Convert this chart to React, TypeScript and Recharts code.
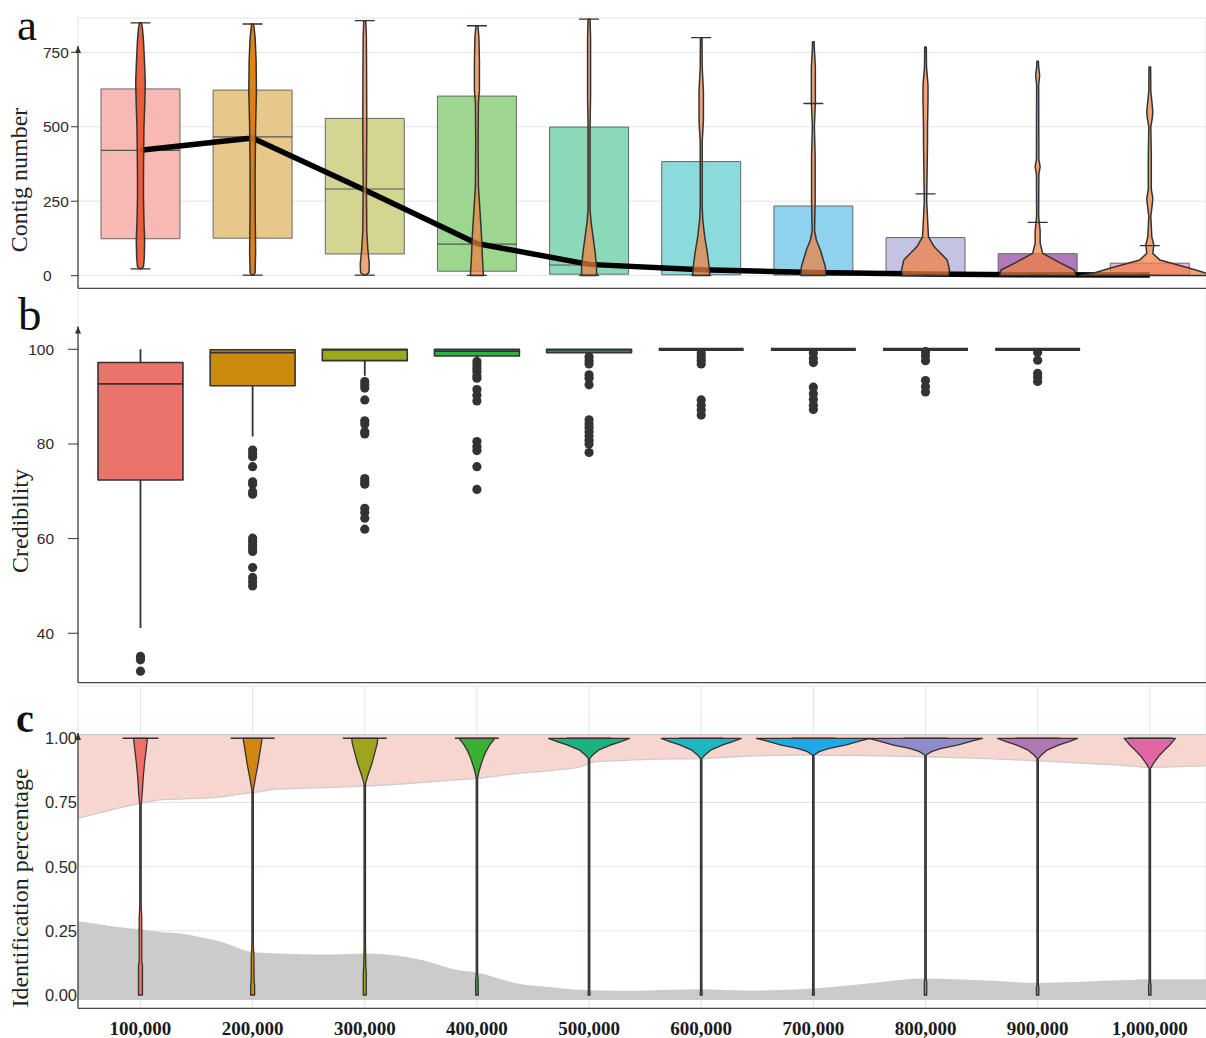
import React from "react";
import {
  ComposedChart, XAxis, YAxis, CartesianGrid, Area, Scatter,
  ReferenceLine, ReferenceDot,
} from "recharts";

// ---- shared categories ----
const sizeLabels = ["100,000", "200,000", "300,000", "400,000", "500,000", "600,000", "700,000", "800,000", "900,000", "1,000,000"];
const sizeIdx = [1, 2, 3, 4, 5, 6, 7, 8, 9, 10];

// ---- a: contig number ----
const contigTicks = [0, 250, 500, 750];
const contigQ1 = [124, 126, 73, 15, 5, 3, 2, 1, 1, 1];
const contigQ3 = [627, 623, 528, 603, 499, 383, 234, 128, 74, 42];
const contigMedian = [421, 466, 291, 106, 36, 18, 10, 5, 3, 2];
const contigTrend = [421, 462, 288, 108, 38, 20, 11, 6, 3, 2];
const contigCapHigh = [849, 845, 856, 839, 861, 799, 578, 275, 179, 101];
const contigCapLow = [23, 2, 2, 1, 1, 1, 1, 1, 1, 1];
// [value, density] pairs of each violin
const contigViolin = [
  [[23, 1], [30, 3], [60, 3.8], [120, 4.2], [180, 3.5], [260, 3], [340, 3], [420, 3.2], [500, 3.5], [580, 4.3], [650, 4.8], [720, 4], [790, 3], [830, 2], [849, 1]],
  [[2, 1], [10, 2.5], [80, 3], [200, 2.6], [350, 2.5], [500, 3], [620, 3.8], [720, 3.5], [800, 2.5], [845, 1]],
  [[2, 1], [10, 4.2], [40, 4.5], [90, 3], [150, 2], [300, 1.6], [500, 2], [700, 1.8], [800, 1.6], [856, 1]],
  [[1, 6.5], [20, 6.2], [60, 5.5], [140, 4.5], [220, 3], [300, 1.5], [450, 1.2], [580, 1.5], [620, 2.5], [720, 2.5], [800, 2], [839, 1]],
  [[1, 7.5], [30, 7.5], [80, 6], [130, 4], [180, 2], [220, 1], [500, 1], [600, 1.5], [800, 1.5], [861, 1]],
  [[1, 8.5], [30, 8], [80, 6], [130, 3.5], [190, 1.5], [230, 1], [450, 1], [520, 2.2], [620, 2.2], [700, 1], [799, 0.8]],
  [[1, 12.5], [30, 12], [86, 7], [120, 3], [150, 1.2], [250, 1.8], [400, 1.8], [500, 1], [580, 2], [700, 2], [760, 1], [785, 0.8]],
  [[1, 23], [19, 24], [53, 21.7], [97, 8.7], [130, 3], [160, 2.5], [250, 1.2], [450, 2], [500, 2], [590, 2.5], [640, 2.5], [700, 1], [768, 0.8]],
  [[1, 38], [19, 36.7], [42, 23], [75, 5], [110, 2.5], [150, 2.5], [200, 1], [340, 1.2], [366, 2.5], [390, 1.2], [640, 1], [673, 2], [700, 1], [720, 0.8]],
  [[1, 70], [10, 55], [25, 40], [53, 10], [75, 3], [103, 4], [130, 2], [200, 1], [240, 2.5], [260, 3], [290, 1.5], [400, 1.5], [500, 1], [530, 2.5], [550, 3], [570, 2.5], [620, 1], [701, 0.8]],
];

// ---- b: credibility ----
const credTicks = [40, 60, 80, 100];
const credQ1 = [72.4, 92.3, 97.6, 98.6, 99.3, 100, 100, 100, 100, null];
const credQ3 = [97.2, 99.9, 100, 100, 100, 100, 100, 100, 100, null];
const credMedian = [92.7, 99.3, 99.9, 99.6, 99.9, 100, 100, 100, 100, null];
const credLow = [41.1, 81.6, 94.4, 97.4, 98.8, 100, 100, 100, 100, null];
const credHigh = [100, 100, 100, 100, 100, 100, 100, 100, 100, null];
const credOutliers = [
  [35.1, 34.4, 32.0],
  [78.7, 78.0, 77.3, 75.2, 72.0, 71.5, 69.9, 69.4, 60.1, 59.4, 58.7, 58.0, 57.3, 53.9, 51.8, 50.9, 50.0],
  [93.2, 92.5, 91.8, 89.3, 84.9, 84.2, 82.6, 82.1, 72.7, 72.0, 71.5, 66.4, 65.5, 64.3, 62.0],
  [97.4, 96.7, 96.0, 95.3, 94.4, 93.9, 91.5, 90.3, 89.1, 80.5, 79.4, 78.6, 75.2, 70.4],
  [98.4, 97.6, 96.9, 94.6, 93.9, 92.5, 85.1, 84.2, 83.5, 82.6, 81.7, 80.8, 80.0, 78.2],
  [99.2, 98.4, 97.7, 96.9, 89.3, 88.2, 87.2, 86.1],
  [99.2, 98.1, 97.2, 92.0, 90.6, 89.4, 88.2, 87.3],
  [99.5, 98.6, 97.6, 93.4, 92.1, 91.0],
  [99.3, 97.7, 94.9, 94.1, 93.2],
  [],
];

// ---- c: identification percentage ----
const idTicks = [0, 0.25, 0.5, 0.75, 1];
const bandX = [0.443, 0.643, 0.795, 1.0, 1.178, 1.392, 1.535, 1.713, 1.829, 1.971, 2.07, 2.185, 2.426, 2.72, 3.005, 3.317, 3.585, 3.816, 4.004, 4.351, 4.672, 4.922, 5.037, 5.278, 5.519, 5.991, 6.437, 6.882, 7.444, 7.996, 8.442, 9.004, 9.44, 9.734, 10.002, 10.269, 10.501];
const pinkLow = [0.688, 0.71, 0.727, 0.747, 0.76, 0.764, 0.766, 0.772, 0.779, 0.787, 0.792, 0.801, 0.805, 0.809, 0.814, 0.822, 0.83, 0.838, 0.844, 0.862, 0.875, 0.889, 0.907, 0.913, 0.918, 0.921, 0.931, 0.935, 0.933, 0.928, 0.923, 0.912, 0.902, 0.896, 0.887, 0.89, 0.893];
const grayHigh = [0.286, 0.275, 0.265, 0.256, 0.245, 0.238, 0.225, 0.208, 0.19, 0.169, 0.165, 0.163, 0.159, 0.158, 0.162, 0.152, 0.128, 0.098, 0.087, 0.046, 0.03, 0.02, 0.019, 0.017, 0.018, 0.022, 0.017, 0.022, 0.043, 0.064, 0.058, 0.048, 0.053, 0.057, 0.061, 0.061, 0.061];
const pinkTop = 1.014;
const grayBottom = -0.0195;
const idViolin = [
  [[0, 2], [0.117, 2], [0.13, 1.3], [0.3, 1.3], [0.35, 0.7], [0.74, 0.7], [0.76, 1.2], [0.8, 2], [0.85, 2.8], [0.9, 4], [0.95, 5.5], [1.0, 7]],
  [[0, 2], [0.04, 2], [0.05, 1.5], [0.15, 1.3], [0.2, 0.7], [0.8, 0.7], [0.81, 1.2], [0.85, 3], [0.9, 5.5], [0.95, 7.5], [1.0, 9.5]],
  [[0, 1.5], [0.08, 1.5], [0.12, 1], [0.2, 0.7], [0.82, 0.7], [0.83, 1.2], [0.86, 3.5], [0.9, 7], [0.95, 10.5], [0.98, 12.5], [1.0, 13]],
  [[0, 1.3], [0.06, 1.3], [0.08, 0.7], [0.845, 0.7], [0.87, 2], [0.896, 4], [0.92, 6], [0.948, 9], [0.975, 13], [1.0, 18]],
  [[0, 1], [0.02, 0.7], [0.922, 0.7], [0.935, 3.7], [0.955, 10], [0.974, 22], [0.987, 32], [1.0, 40.5]],
  [[0, 1], [0.02, 0.7], [0.922, 0.7], [0.935, 3.7], [0.955, 10], [0.974, 21.5], [0.987, 31.5], [1.0, 40]],
  [[0, 1], [0.02, 0.7], [0.935, 0.7], [0.948, 6], [0.96, 15], [0.974, 33], [0.99, 47], [1.0, 57]],
  [[0, 1.2], [0.05, 1.2], [0.06, 0.7], [0.935, 0.7], [0.948, 6], [0.96, 15], [0.974, 33], [0.99, 47], [1.0, 57]],
  [[0, 1.2], [0.03, 1.2], [0.04, 0.7], [0.922, 0.7], [0.935, 3.7], [0.955, 10], [0.974, 21.5], [0.987, 31.5], [1.0, 40]],
  [[0, 1.2], [0.04, 1.2], [0.05, 0.7], [0.883, 0.7], [0.904, 4], [0.935, 10], [0.955, 15], [0.974, 20], [0.99, 23.5], [1.0, 25.7]],
];

// ---- styles ----
const contigBoxFill = ["#F6B9B4", "#E7C78A", "#D3D591", "#9DD78F", "#8CD9BA", "#8CDBDC", "#8ED2EE", "#C5C3E3", "#B279B9", "#F2B0DA"];
const contigViolinFill = ["#E8532E", "#E07806", "#EE7F45", "#F08040", "#F08040", "#F08040", "#F08040", "#F08040", "#F08040", "#F08040"];
const contigViolinAlpha = [0.9, 0.92, 0.72, 0.72, 0.72, 0.72, 0.72, 0.72, 0.72, 0.72];
const credBoxFill = ["#EA736B", "#CC8B0C", "#9DA81C", "#2EB342", "#26A68A", "#1DB8BE", "#1EA8E6", "#8E8DCA", "#B077B5", "#E265A4"];
const idViolinFill = ["#EE7068", "#D1870F", "#9CA51C", "#3AAF32", "#1BB27F", "#1DB8BE", "#1EA8E6", "#8E8DCA", "#B077B5", "#E265A4"];

const W = 1206;
const X_DOMAIN: [number, number] = [0.443, 10.501];
const PX = 112.2; // pixels per category step
const SERIF = '"Liberation Serif", "Times New Roman", serif';
const SANS = '"Liberation Sans", Arial, sans-serif';
const GRID = "#e3e3e3";
const INK = "#333";

type Pt = { x: number; y: number };
type Shape = { pts: Pt[]; closed?: boolean; fill?: string; fillOpacity?: number; stroke?: string; sw?: number };

const violinOutline = (cx: number, prof: number[][]): Pt[] => {
  const left = prof.map(([v, w]) => ({ x: cx - w / PX, y: v }));
  const right = prof.slice().reverse().map(([v, w]) => ({ x: cx + w / PX, y: v }));
  return left.concat(right);
};
const boxOutline = (cx: number, lo: number, hi: number, half: number): Pt[] => [
  { x: cx - half / PX, y: lo }, { x: cx + half / PX, y: lo },
  { x: cx + half / PX, y: hi }, { x: cx - half / PX, y: hi },
];
const hSeg = (cx: number, y: number, half: number): Pt[] => [{ x: cx - half / PX, y }, { x: cx + half / PX, y }];
const vSeg = (cx: number, y0: number, y1: number): Pt[] => [{ x: cx, y: y0 }, { x: cx, y: y1 }];

// one Scatter whose line renderer draws every shape, positioned by the chart scales
function shapeLayer(id: string, shapes: Shape[]) {
  const data = shapes.flatMap((s) => s.pts);
  const draw = (props: any) => {
    const pts: Pt[] = props.points || [];
    let k = 0;
    return (
      <g>
        {shapes.map((s, i) => {
          const seg = pts.slice(k, k + s.pts.length);
          k += s.pts.length;
          if (seg.length < 2) return null;
          const d = seg.map((p, j) => `${j ? "L" : "M"}${p.x.toFixed(2)},${p.y.toFixed(2)}`).join("") + (s.closed ? "Z" : "");
          return (
            <path key={i} d={d} fill={s.closed ? s.fill : "none"} fillOpacity={s.fillOpacity ?? 1}
              stroke={s.stroke || "none"} strokeWidth={s.sw ?? 1} strokeLinejoin="round" />
          );
        })}
      </g>
    );
  };
  return <Scatter key={id} data={data} line={draw} shape={() => <g />} isAnimationActive={false} />;
}

const axisSegment = (bottom: number, top: number) => (
  <ReferenceLine segment={[{ x: X_DOMAIN[0], y: bottom }, { x: X_DOMAIN[0], y: top }]}
    stroke="#444" strokeWidth={1.3} ifOverflow="visible" />
);
const arrow = (y: number) => (
  <ReferenceDot x={X_DOMAIN[0]} y={y} r={0} ifOverflow="visible"
    shape={(p: any) => <path d={`M${p.cx},${p.cy} l-3,7 h6 z`} fill={INK} />} />
);

const leftTick = (p: any) => (
  <text x={43} y={p.y} dy={5.5} textAnchor="start" fontSize={15.5} fontFamily={SANS} fill="#2b2b2b">
    {p.payload.value}
  </text>
);

const A_DOMAIN: [number, number] = [-42.3, 865.1];
const B_DOMAIN: [number, number] = [29.56, 112.53];
const C_DOMAIN: [number, number] = [-0.0518, 1.2037];

function ContigPanel() {
  const boxes = sizeIdx.map((x, i) => ({
    pts: boxOutline(x, contigQ1[i], contigQ3[i], 39.5), closed: true,
    fill: contigBoxFill[i], stroke: "#666", sw: 1,
  }));
  const medians = sizeIdx.map((x, i) => ({ pts: hSeg(x, contigMedian[i], 39.5), stroke: "#555", sw: 1.2 }));
  const trend = [{ pts: sizeIdx.map((x, i) => ({ x, y: contigTrend[i] })), stroke: "#000", sw: 5.5 }];
  const violins = sizeIdx.map((x, i) => ({
    pts: violinOutline(x, contigViolin[i]), closed: true,
    fill: contigViolinFill[i], fillOpacity: contigViolinAlpha[i], stroke: INK, sw: 1.5,
  }));
  const caps = sizeIdx.flatMap((x, i) => [
    { pts: hSeg(x, contigCapHigh[i], 10), stroke: INK, sw: 1.3 },
    { pts: hSeg(x, contigCapLow[i], 10), stroke: INK, sw: 1.3 },
  ]);
  return (
    <ComposedChart width={W} height={300.3} margin={{ top: 18, right: 0, bottom: 0, left: 0 }}>
      <CartesianGrid stroke={GRID} />
      <XAxis type="number" dataKey="x" domain={X_DOMAIN} ticks={sizeIdx} allowDataOverflow tick={false}
        tickLine={false} height={12} axisLine={{ stroke: "#444", strokeWidth: 1.3 }} />
      <YAxis type="number" dataKey="y" domain={A_DOMAIN} ticks={contigTicks} allowDataOverflow width={78}
        axisLine={false} tickSize={7} tickLine={{ stroke: INK }} tick={leftTick} />
      {shapeLayer("a-box", boxes)}
      {shapeLayer("a-med", medians)}
      {shapeLayer("a-trend", trend)}
      {shapeLayer("a-violin", violins)}
      {shapeLayer("a-caps", caps)}
      {axisSegment(A_DOMAIN[0], 771)}
      {arrow(771)}
    </ComposedChart>
  );
}

function CredibilityPanel() {
  const boxes: Shape[] = [];
  const whiskers: Shape[] = [];
  const medians: Shape[] = [];
  sizeIdx.forEach((x, i) => {
    const q1 = credQ1[i], q3 = credQ3[i];
    if (q1 == null || q3 == null) return;
    if (credLow[i]! < q1) whiskers.push({ pts: vSeg(x, credLow[i]!, q1), stroke: INK, sw: 1.8 });
    if (credHigh[i]! > q3) whiskers.push({ pts: vSeg(x, q3, credHigh[i]!), stroke: INK, sw: 1.8 });
    const flat = q1 === q3;
    if (!flat) boxes.push({ pts: boxOutline(x, q1, q3, 42.5), closed: true, fill: credBoxFill[i], stroke: INK, sw: 1.6 });
    medians.push({ pts: hSeg(x, credMedian[i]!, 42.5), stroke: INK, sw: flat ? 3.2 : 1.8 });
  });
  const dots = sizeIdx.flatMap((x, i) => credOutliers[i].map((y) => ({ x, y })));
  return (
    <ComposedChart width={W} height={396.7} margin={{ top: 2, right: 0, bottom: 0, left: 0 }}>
      <CartesianGrid stroke={GRID} horizontal={false} />
      <XAxis type="number" dataKey="x" domain={X_DOMAIN} ticks={sizeIdx} allowDataOverflow tick={false}
        tickLine={false} height={2} axisLine={{ stroke: "#444", strokeWidth: 1.3 }} />
      <YAxis type="number" dataKey="y" domain={B_DOMAIN} ticks={credTicks} allowDataOverflow width={78}
        axisLine={false} tickSize={10} tickMargin={14} tickLine={{ stroke: INK }}
        tick={{ fontSize: 15.5, fontFamily: SANS, fill: "#2b2b2b" }} />
      {shapeLayer("b-whisk", whiskers)}
      {shapeLayer("b-box", boxes)}
      {shapeLayer("b-med", medians)}
      <Scatter data={dots} isAnimationActive={false}
        shape={(p: any) => <circle cx={p.cx} cy={p.cy} r={4.6} fill={INK} />} />
      {axisSegment(B_DOMAIN[0], 104.8)}
      {arrow(104.8)}
    </ComposedChart>
  );
}

function IdentificationPanel() {
  const rows = bandX.map((x, i) => ({ x, pink: [pinkLow[i], pinkTop], gray: [grayBottom, grayHigh[i]] }));
  const violins = sizeIdx.map((x, i) => ({
    pts: violinOutline(x, idViolin[i]), closed: true, fill: idViolinFill[i], stroke: INK, sw: 1.3,
  }));
  const caps = sizeIdx.map((x, i) => ({ pts: hSeg(x, 1, i === 0 ? 18 : 22), stroke: INK, sw: 1.5 }));
  return (
    <ComposedChart width={W} height={355} data={rows} margin={{ top: 3, right: 0, bottom: 0, left: 0 }}>
      <CartesianGrid stroke={GRID} />
      <XAxis type="number" dataKey="x" domain={X_DOMAIN} ticks={sizeIdx} allowDataOverflow height={29.7}
        tickLine={false} tickSize={0} tickMargin={13} axisLine={{ stroke: "#444", strokeWidth: 1.3 }}
        tickFormatter={(v: number) => sizeLabels[v - 1]}
        tick={{ fontSize: 19, fontFamily: SERIF, fontWeight: 700, fill: "#1a1a1a" }} />
      <YAxis type="number" dataKey="y" domain={C_DOMAIN} ticks={idTicks} allowDataOverflow width={78}
        axisLine={false} tickLine={false} tickSize={0} tickMargin={1}
        tickFormatter={(v: number) => v.toFixed(2)}
        tick={{ fontSize: 16.5, fontFamily: SANS, fill: "#2b2b2b" }} />
      <Area dataKey="pink" type="monotone" fill="#F8D6D0" fillOpacity={1} stroke="#cdcdcd" strokeWidth={1.3}
        dot={false} activeDot={false} isAnimationActive={false} />
      <Area dataKey="gray" type="monotone" fill="#CBCBCB" fillOpacity={1} stroke="none"
        dot={false} activeDot={false} isAnimationActive={false} />
      {shapeLayer("c-violin", violins)}
      {shapeLayer("c-caps", caps)}
      {axisSegment(C_DOMAIN[0], 1.0206)}
      {arrow(1.0206)}
    </ComposedChart>
  );
}

export default function App() {
  return (
    <div style={{ position: "absolute", left: 0, top: 0, width: W, height: 1038, background: "#fff", overflow: "hidden" }}>
      <div style={{ position: "absolute", left: 0, top: 0 }}><ContigPanel /></div>
      <div style={{ position: "absolute", left: 0, top: 288 }}><CredibilityPanel /></div>
      <div style={{ position: "absolute", left: 0, top: 683 }}><IdentificationPanel /></div>
      <svg width={W} height={1038} style={{ position: "absolute", left: 0, top: 0, pointerEvents: "none" }}>
        <g fontFamily={SERIF} fill="#111">
          <text x={17} y={40} fontSize={45}>a</text>
          <text x={18} y={330} fontSize={47}>b</text>
          <text x={16} y={732} fontSize={40} fontWeight={700}>c</text>
        </g>
        <g fontFamily={SERIF} fill="#222" fontSize={24} textAnchor="middle">
          <text transform="translate(26.5,180) rotate(-90)">Contig number</text>
          <text transform="translate(28,521) rotate(-90)">Credibility</text>
          <text transform="translate(28,888) rotate(-90)">Identification percentage</text>
        </g>
      </svg>
    </div>
  );
}
